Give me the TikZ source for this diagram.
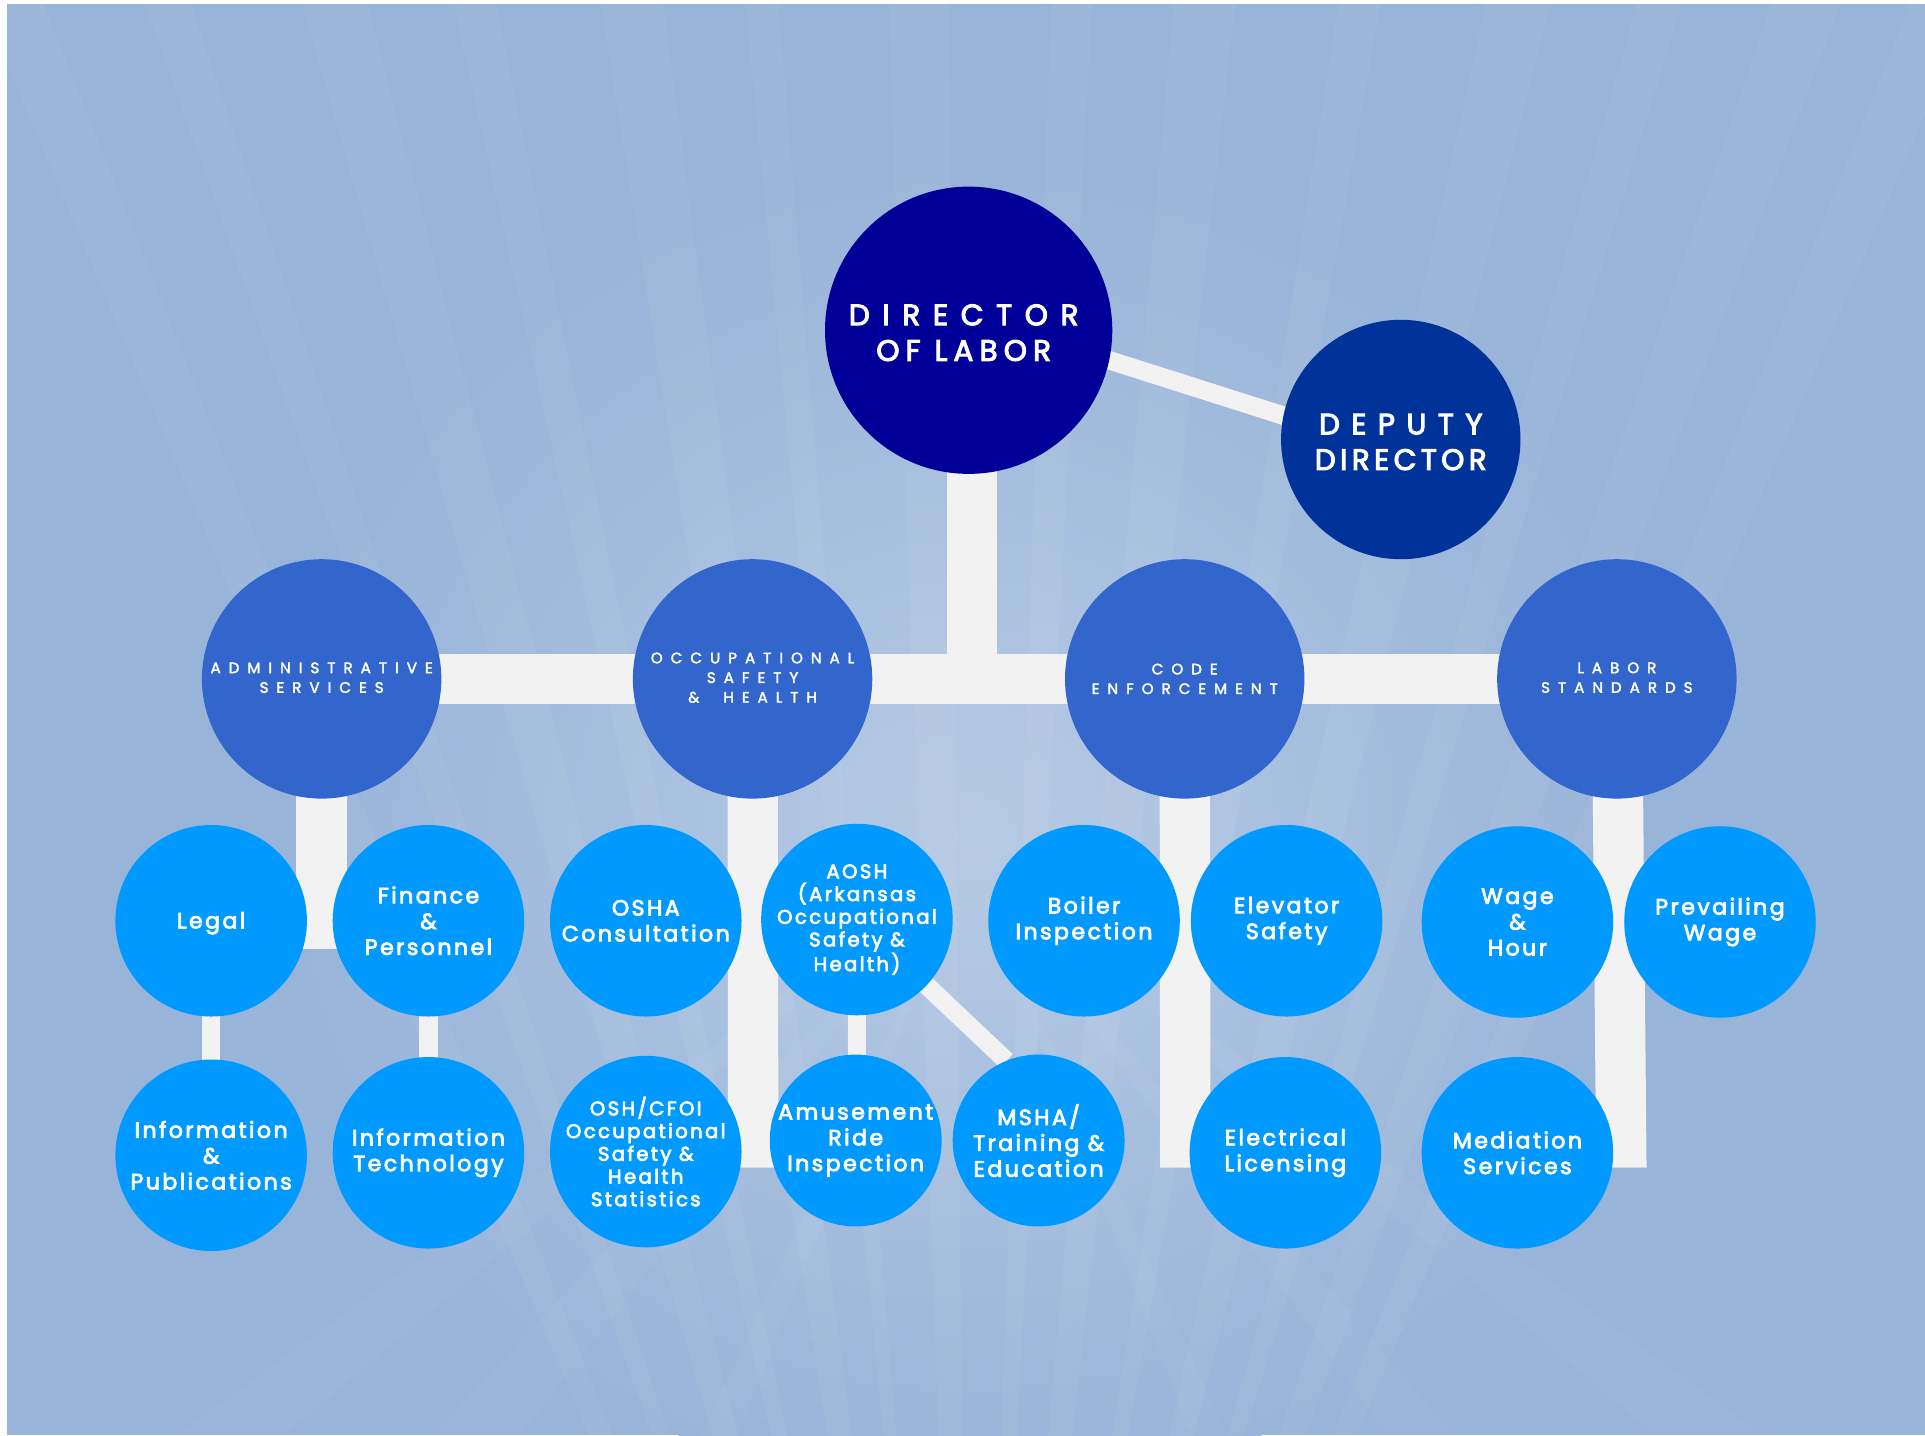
\documentclass[tikz,border=0pt]{standalone}
\usepackage{fontspec}
\setmainfont{Poppins}
\newfontfamily\popb[FakeBold=3.5]{Poppins}
\newfontfamily\popm[FakeBold=2.4]{Poppins}
\usetikzlibrary{calc}
\definecolor{bg}{HTML}{98B4D9}
\definecolor{bglight}{HTML}{B6CAE4}
\definecolor{dirc}{HTML}{000099}
\definecolor{depc}{HTML}{003399}
\definecolor{divc}{HTML}{3366CC}
\definecolor{unitc}{HTML}{0099FF}
\definecolor{conc}{HTML}{F2F2F2}
\newcommand\trk[2]{{\addfontfeature{LetterSpace=#1}#2}}
\pgfdeclarelayer{bgl}
\pgfdeclarelayer{lines}
\pgfsetlayers{bgl,lines,main}
\begin{document}
\begin{tikzpicture}[x=1pt,y=-1pt,
  disc/.style={circle,inner sep=0pt,outer sep=0pt,minimum size=#1},
  topn/.style={disc=234pt,fill=dirc},
  depn/.style={disc=195pt,fill=depc},
  divn/.style={disc=195pt,fill=divc},
  unitn/.style={disc=156pt,fill=unitc},
  smalln/.style={disc=140pt,fill=unitc},
  conn/.style={draw=conc,line width=41pt},
  thinconn/.style={draw=conc,line width=15pt},
  lbl/.style={text=white,align=center,inner sep=0pt},
  t1/.style={lbl,font=\popb\fontsize{24}{29}\selectfont},
  t2/.style={lbl,font=\popm\fontsize{12.3}{16}\selectfont\addfontfeature{LetterSpace=53}},
  t3/.style={lbl,font=\popb\fontsize{18}{21}\selectfont\addfontfeature{LetterSpace=11}},
  t4/.style={lbl,font=\popb\fontsize{16}{18.5}\selectfont\addfontfeature{LetterSpace=12}},
]
\useasboundingbox (0,0) rectangle (1568,1169);
% ---------- background ----------
\begin{pgfonlayer}{bgl}
\fill[white] (0,0) rectangle (1568,1169);
\fill[bg] (6,3) rectangle (1568,1169);
\begin{scope}
\clip (6,3) rectangle (1568,1169);
\shade[inner color=bglight,outer color=bg] (790,680) ellipse (560 and 540);
\coordinate (C) at (790,1900);
\foreach \a/\b in {247/248.3,250.5/251.5,254/255.5,257.5/258.5,261/262.5,264.5/265.3,
                   268/269.5,272/273,275/276.5,279/280,282.5/284,286/287,289/290.5,292/293.3}{
  \fill[white,opacity=0.05] (C) -- ($(C)+(\a:2600)$) -- ($(C)+(\b:2600)$) -- cycle;
}
\coordinate (C2) at (790,700);
\foreach \a/\b in {128/133,112/115,66/69,50/54,140/144,36/40}{
  \fill[white,opacity=0.035] (C2) -- ($(C2)+(\a:2200)$) -- ($(C2)+(\b:2200)$) -- cycle;
}
\end{scope}
\end{pgfonlayer}
% ---------- nodes ----------
\node[topn] (dir) at (789,269) {};
\node[depn] (dep) at (1141,358) {};
\node[divn] (adm) at (262,553) {};
\node[divn] (osh) at (613,553) {};
\node[divn] (ce)  at (965,553) {};
\node[divn] (ls)  at (1317,553) {};
\node[unitn] (legal)  at (172,750) {};
\node[unitn] (fin)    at (349,750) {};
\node[unitn] (oshc)   at (526,750) {};
\node[unitn] (aosh)   at (698,749) {};
\node[unitn] (boiler) at (883,750) {};
\node[unitn] (elev)   at (1048,750) {};
\node[unitn] (wage)   at (1236,751) {};
\node[unitn] (prev)   at (1401,751) {};
\node[unitn] (infopub) at (172,941) {};
\node[unitn] (it)      at (349,939) {};
\node[unitn] (cfoi)    at (526,938) {};
\node[smalln] (amuse)  at (697,929) {};
\node[smalln] (msha)   at (846,929) {};
\node[unitn] (elec)    at (1047,939) {};
\node[unitn] (med)     at (1236,939) {};
% ---------- labels ----------
\node[t1] (dirT) at (785,271) {\trk{43}{DIRECTOR}\\\trk{21}{OF LABOR}};
\node[t1] (depT) at (1141,360) {\trk{39}{DEPUTY}\\\trk{15}{DIRECTOR}};
\node[t2] (admT) at (262,552) {ADMINISTRATIVE\\SERVICES};
\node[t2] (oshT) at (613,552) {OCCUPATIONAL\\SAFETY\\\&\ \ HEALTH};
\node[t2] (ceT)  at (965,553) {CODE\\ENFORCEMENT};
\node[t2] (lsT)  at (1317,552) {LABOR\\STANDARDS};
\node[t3] (legalT)  at ($(legal)+(0,2)$)  {Legal};
\node[t3] (finT)    at (fin)    {Finance\\\&\\Personnel};
\node[t3] (oshcT)   at (oshc)   {OSHA\\Consultation};
\node[t4] (aoshT)   at (aosh)   {AOSH\\(Arkansas\\Occupational\\Safety \&\\Health)};
\node[t3] (boilerT) at (boiler) {Boiler\\Inspection};
\node[t3] (elevT)   at (elev)   {Elevator\\Safety};
\node[t3] (wageT)   at (wage)   {Wage\\\&\\Hour};
\node[t3] (prevT)   at (prev)   {Prevailing\\Wage};
\node[t3] (infopubT) at (infopub) {Information\\\&\\Publications};
\node[t3] (itT)      at (it)      {Information\\Technology};
\node[t4] (cfoiT)    at (cfoi)    {OSH/CFOI\\Occupational\\Safety \&\\Health\\Statistics};
\node[t3] (amuseT)   at (amuse)   {Amusement\\Ride\\Inspection};
\node[t3] (mshaT)    at (msha)    {MSHA/\\Training \&\\Education};
\node[t3] (elecT)    at (elec)    {Electrical\\Licensing};
\node[t3] (medT)     at (med)     {Mediation\\Services};
% ---------- connectors ----------
\coordinate (dirB) at ($(dir.center)+(2.5,0)$);
\coordinate (admJ) at (262,752.5);
\coordinate (oshJ) at (613.5,930.5);
\coordinate (ceJ)  at (965.5,930.5);
\coordinate (lsJ)  at (1320.5,930.5);
\begin{pgfonlayer}{lines}
\draw[conn] (adm.center) -- (ls.center);
\draw[conn] (dirB) -- (dirB |- adm.center);
\draw[thinconn] ($(dir.center)+(0,-12)$) -- ($(dep.center)+(0,11)$);
\draw[conn] (adm.center) -- (admJ);
\draw[conn] (legal.center |- admJ) -- (fin.center |- admJ);
\draw[thinconn] (legal.center) -- (infopub.center);
\draw[thinconn] (fin.center) -- (it.center);
\draw[conn] (osh.center) -- (oshJ) -- (oshJ -| amuse.center);
\draw[thinconn] (aosh.center) -- (aosh.center |- amuse.center);
\draw[thinconn] (aosh.center) -- (msha.112);
\draw[conn] (ce.center) -- (ceJ) -- (ceJ -| elec.center);
\draw[conn] (ls.center) -- (lsJ) -- (lsJ -| med.center);
\end{pgfonlayer}
\end{tikzpicture}
\end{document}
